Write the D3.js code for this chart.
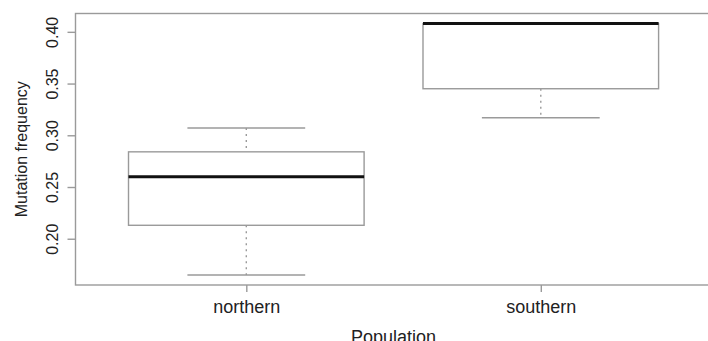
<!DOCTYPE html>
<html>
<head>
<meta charset="utf-8">
<script src="https://cdn.jsdelivr.net/npm/d3@7"></script>
<style>
  body { margin: 0; background: #fff; }
  svg { display: block; font-family: 'Liberation Sans', Arial, sans-serif; }
  .lab { fill: #222; }
</style>
</head>
<body>
<div id="chart"></div>
<script>
// five-number summaries
const categories = ['northern', 'southern']
const mins    = [0.165, 0.317]
const q1s     = [0.213, 0.345]
const medians = [0.260, 0.408]
const q3s     = [0.284, 0.408]
const maxs    = [0.307, 0.408]
const yTicks  = [0.20, 0.25, 0.30, 0.35, 0.40]

const width = 708
const height = 341
const margin = {top: 13.5, right: -3.6, bottom: 56, left: 75.5}
const lineColor = '#9a9a9a'

const boxes = categories.map((c, i) => ({
  name: c, pos: i + 1,
  min: mins[i], q1: q1s[i], med: medians[i], q3: q3s[i], max: maxs[i]
}))

// R style: 4% padding of the data range on each side
const lo = d3.min(mins), hi = d3.max(maxs)
const pad = (hi - lo) * 0.04
const y = d3.scaleLinear()
  .domain([lo - pad, hi + pad])
  .range([height - margin.bottom, margin.top])

const xPad = (categories.length) * 0.04
const x = d3.scaleLinear()
  .domain([0.5 - xPad, categories.length + 0.5 + xPad])
  .range([margin.left, width - margin.right])

const svg = d3.select('#chart').append('svg')
  .attr('width', width)
  .attr('height', height)

const boxW = x(1.4) - x(1)
const capW = boxW / 2

const g = svg.append('g').attr('class', 'boxes')
const box = g.selectAll('.box').data(boxes).enter().append('g').attr('class', 'box')

// whiskers (dashed)
box.append('line')
  .attr('x1', d => x(d.pos)).attr('x2', d => x(d.pos))
  .attr('y1', d => y(d.max)).attr('y2', d => y(d.q3))
  .attr('stroke', lineColor).attr('stroke-width', 1.4)
  .attr('stroke-dasharray', '2,4')
box.append('line')
  .attr('x1', d => x(d.pos)).attr('x2', d => x(d.pos))
  .attr('y1', d => y(d.q1)).attr('y2', d => y(d.min))
  .attr('stroke', lineColor).attr('stroke-width', 1.4)
  .attr('stroke-dasharray', '2,4')

// caps
box.append('line')
  .attr('x1', d => x(d.pos) - capW).attr('x2', d => x(d.pos) + capW)
  .attr('y1', d => y(d.max)).attr('y2', d => y(d.max))
  .attr('stroke', lineColor).attr('stroke-width', 1.4)
box.append('line')
  .attr('x1', d => x(d.pos) - capW).attr('x2', d => x(d.pos) + capW)
  .attr('y1', d => y(d.min)).attr('y2', d => y(d.min))
  .attr('stroke', lineColor).attr('stroke-width', 1.4)

// box
box.append('rect')
  .attr('x', d => x(d.pos) - boxW)
  .attr('width', 2 * boxW)
  .attr('y', d => y(d.q3))
  .attr('height', d => y(d.q1) - y(d.q3))
  .attr('fill', 'none')
  .attr('stroke', lineColor).attr('stroke-width', 1.4)

// median
box.append('line')
  .attr('x1', d => x(d.pos) - boxW).attr('x2', d => x(d.pos) + boxW)
  .attr('y1', d => y(d.med)).attr('y2', d => y(d.med))
  .attr('stroke', '#111').attr('stroke-width', 3)

// frame
svg.append('rect')
  .attr('x', x.range()[0]).attr('y', y.range()[1])
  .attr('width', x.range()[1] - x.range()[0])
  .attr('height', y.range()[0] - y.range()[1])
  .attr('fill', 'none')
  .attr('stroke', lineColor).attr('stroke-width', 1.4)

// y axis
const yAxis = d3.axisLeft(y).tickValues(yTicks).tickSize(8).tickFormat(d3.format('.2f'))
const gy = svg.append('g')
  .attr('transform', 'translate(' + x.range()[0] + ',0)')
  .call(yAxis)
gy.select('.domain').remove()
gy.selectAll('line').attr('stroke', lineColor).attr('stroke-width', 1.4)
gy.selectAll('text')
  .attr('class', 'lab')
  .attr('transform', 'rotate(-90)')
  .attr('x', 0).attr('y', -18).attr('dy', 0)
  .style('text-anchor', 'middle')
  .style('font-size', '16px')
  .style('fill', '#222')

// x axis
const xAxis = d3.axisBottom(x)
  .tickValues(boxes.map(d => d.pos))
  .tickFormat((d, i) => categories[i])
  .tickSize(7)
const gx = svg.append('g')
  .attr('transform', 'translate(0,' + y.range()[0] + ')')
  .call(xAxis)
gx.select('.domain').remove()
gx.selectAll('line').attr('stroke', lineColor).attr('stroke-width', 1.4)
gx.selectAll('text')
  .attr('y', 28).attr('dy', 0)
  .style('font-size', '18px')
  .style('fill', '#222')

// axis titles
svg.append('text')
  .attr('class', 'lab')
  .attr('transform', 'translate(27,' + ((y.range()[0] + y.range()[1]) / 2) + ')rotate(-90)')
  .style('text-anchor', 'middle')
  .style('font-size', '16px')
  .text('Mutation frequency')

svg.append('text')
  .attr('class', 'lab')
  .attr('x', (x.range()[0] + x.range()[1]) / 2)
  .attr('y', 343)
  .style('text-anchor', 'middle')
  .style('font-size', '18px')
  .text('Population')
</script>
</body>
</html>
